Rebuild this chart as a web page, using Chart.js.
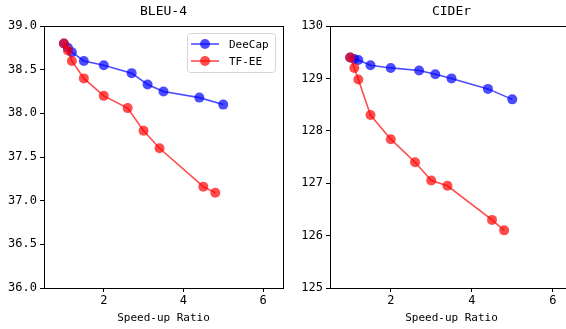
<!DOCTYPE html>
<html>
<head>
<meta charset="utf-8">
<script src="https://cdn.jsdelivr.net/npm/chart.js@4"></script>
<style>
    html, body { margin: 0; padding: 0; background: #fff; overflow: hidden; }
    #wrap { position: relative; width: 566px; height: 329px; overflow: hidden; }
    .box { position: absolute; top: 0; height: 329px; }
    #leftBox { left: 0; width: 290px; }
    #rightBox { left: 290px; width: 290px; }
</style>
</head>
<body>
<div id="wrap">
    <div class="box" id="leftBox"><canvas id="bleuChart"></canvas></div>
    <div class="box" id="rightBox"><canvas id="ciderChart"></canvas></div>
</div>
<script>
// Data
const seriesNames = ['DeeCap', 'TF-EE'];

const deecapSpeed = [1.0, 1.1, 1.2, 1.5, 2.0, 2.7, 3.1, 3.5, 4.4, 5.0];
const tfeeSpeed = [1.0, 1.1, 1.2, 1.5, 2.0, 2.6, 3.0, 3.4, 4.5, 4.8];

const deecapBleu = [38.8, 38.75, 38.7, 38.6, 38.55, 38.46, 38.33, 38.25, 38.18, 38.1];
const tfeeBleu = [38.8, 38.72, 38.6, 38.4, 38.2, 38.06, 37.8, 37.6, 37.16, 37.09];

const deecapCider = [129.4, 129.37, 129.35, 129.25, 129.2, 129.15, 129.08, 129.0, 128.8, 128.6];
const tfeeCider = [129.4, 129.2, 128.98, 128.3, 127.84, 127.4, 127.05, 126.95, 126.3, 126.1];

const xTicks = [2, 4, 6];
const bleuTicks = [36.0, 36.5, 37.0, 37.5, 38.0, 38.5, 39.0];
const ciderTicks = [125, 126, 127, 128, 129, 130];

const FONT = "'DejaVu Sans Mono', monospace";
const blue = 'rgba(0, 0, 255, 0.7)';
const red = 'rgba(255, 0, 0, 0.7)';

function toPoints(xs, ys) {
    return xs.map((x, i) => ({ x: x, y: ys[i] }));
}

function makeDataset(label, xs, ys, color, order) {
    return {
        label: label,
        data: toPoints(xs, ys),
        borderColor: color,
        backgroundColor: color,
        pointBackgroundColor: color,
        pointBorderWidth: 0,
        pointRadius: 5,
        borderWidth: 1.6,
        tension: 0,
        order: order
    };
}

// Frame, title and legend drawn like matplotlib
const framePlugin = {
    id: 'frame',
    afterDraw(chart, args, opts) {
        const ctx = chart.ctx;
        const a = chart.chartArea;
        ctx.save();
        ctx.strokeStyle = '#000';
        ctx.lineWidth = 1;
        ctx.strokeRect(Math.round(a.left) + 0.5, Math.round(a.top) + 0.5,
            Math.round(a.right - a.left), Math.round(a.bottom - a.top));

        // title
        ctx.fillStyle = '#000';
        ctx.font = '13px ' + FONT;
        ctx.textAlign = 'center';
        ctx.textBaseline = 'middle';
        ctx.fillText(opts.title, (a.left + a.right) / 2, 12);

        if (opts.legend) {
            const bx = a.right - 96, by = a.top + 7, bw = 88, bh = 39;
            ctx.beginPath();
            ctx.roundRect(bx + 0.5, by + 0.5, bw, bh, 3);
            ctx.fillStyle = 'rgba(255,255,255,0.8)';
            ctx.fill();
            ctx.strokeStyle = '#d6d6d6';
            ctx.stroke();
            ctx.font = '11px ' + FONT;
            ctx.textAlign = 'left';
            chart.data.datasets.forEach((ds, i) => {
                const y = by + 11 + i * 17;
                ctx.strokeStyle = ds.borderColor;
                ctx.lineWidth = 1.6;
                ctx.beginPath();
                ctx.moveTo(bx + 4, y);
                ctx.lineTo(bx + 32, y);
                ctx.stroke();
                ctx.fillStyle = ds.borderColor;
                ctx.beginPath();
                ctx.arc(bx + 18, y, 5, 0, Math.PI * 2);
                ctx.fill();
                ctx.fillStyle = '#000';
                ctx.fillText(ds.label, bx + 42, y + 1);
            });
        }
        ctx.restore();
    }
};

function makeChart(canvasId, title, deecapY, tfeeY, yTicks, yMin, yMax, decimals, yWidth, showLegend) {
    const ctx = document.getElementById(canvasId).getContext('2d');
    return new Chart(ctx, {
        type: 'line',
        data: {
            datasets: [
                makeDataset(seriesNames[0], deecapSpeed, deecapY, blue, 2),
                makeDataset(seriesNames[1], tfeeSpeed, tfeeY, red, 1)
            ]
        },
        options: {
            responsive: true,
            maintainAspectRatio: false,
            animation: false,
            events: [],
            layout: { padding: { top: 26, right: 7, left: 0, bottom: 0 } },
            scales: {
                x: {
                    type: 'linear',
                    min: 0.5,
                    max: 6.5,
                    afterBuildTicks: scale => { scale.ticks = xTicks.map(v => ({ value: v })); },
                    afterFit: scale => { scale.height = 41; },
                    grid: { display: true, drawOnChartArea: false, tickLength: 4, color: '#000' },
                    border: { display: true, color: '#000' },
                    ticks: {
                        color: '#000',
                        padding: 2,
                        maxRotation: 0,
                        font: { size: 12, family: FONT }
                    },
                    title: {
                        display: true,
                        text: 'Speed-up Ratio',
                        color: '#000',
                        padding: { top: 0, bottom: 4 },
                        font: { size: 11, family: FONT }
                    }
                },
                y: {
                    type: 'linear',
                    min: yMin,
                    max: yMax,
                    afterBuildTicks: scale => { scale.ticks = yTicks.map(v => ({ value: v })); },
                    afterFit: scale => { scale.width = yWidth; },
                    grid: { display: true, drawOnChartArea: false, tickLength: 4, color: '#000' },
                    border: { display: true, color: '#000' },
                    ticks: {
                        color: '#000',
                        padding: 3,
                        font: { size: 12, family: FONT },
                        callback: v => Number(v).toFixed(decimals)
                    }
                }
            },
            plugins: {
                legend: { display: false },
                tooltip: { enabled: false },
                frame: { title: title, legend: showLegend }
            }
        },
        plugins: [framePlugin]
    });
}

makeChart('bleuChart', 'BLEU-4', deecapBleu, tfeeBleu, bleuTicks, 36, 39, 1, 44, true);
makeChart('ciderChart', 'CIDEr', deecapCider, tfeeCider, ciderTicks, 125, 130, 0, 40, false);
</script>
</body>
</html>
